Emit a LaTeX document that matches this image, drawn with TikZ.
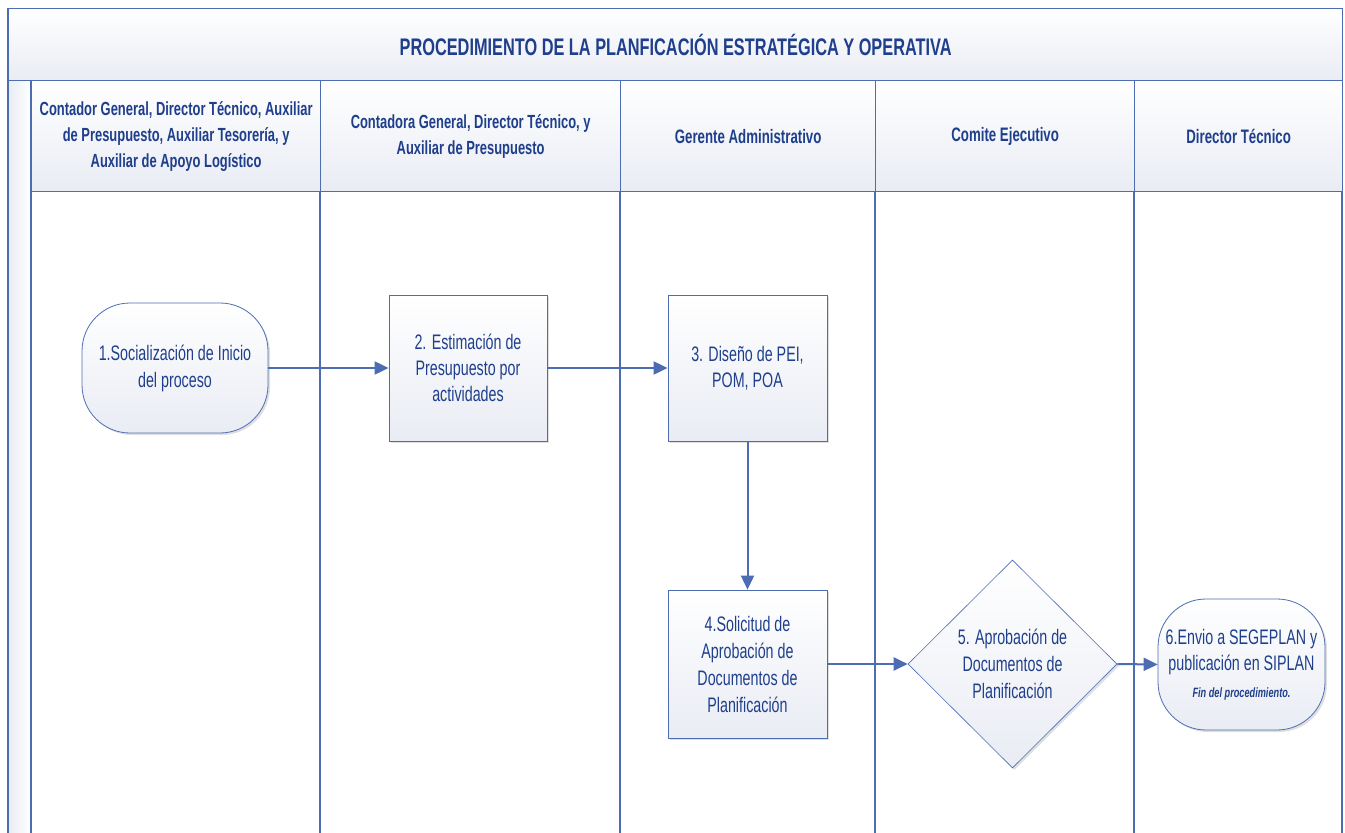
\documentclass[tikz,border=0pt]{standalone}
\usepackage{fontspec}
\setmainfont{Liberation Sans}[FakeStretch=0.68]
\usetikzlibrary{arrows.meta,shapes.geometric,shadows}
\definecolor{lane}{HTML}{4D6DB3}
\definecolor{txt}{HTML}{1F3F8C}
\definecolor{shade}{HTML}{E9ECF4}
\tikzset{
  laneline/.style={draw=lane,line width=1.3pt},
  cell/.style={draw=lane,line width=1.3pt,top color=white,bottom color=shade,inner sep=0pt,text=txt,font=\fontsize{19}{26}\selectfont\bfseries,align=center},
  procbox/.style={draw=lane,line width=0.8pt,top color=white,bottom color=shade,text=txt,align=center,inner sep=0pt,font=\fontsize{21}{26}\selectfont,drop shadow={shadow xshift=2pt,shadow yshift=-2pt,opacity=0.25,fill=gray}},
  termbox/.style={procbox,rounded corners=48pt},
  decbox/.style={procbox,shape=diamond,line width=0.6pt},
  flow/.style={draw=lane,line width=2pt,-{Triangle[length=14pt,width=13pt]}}
}
\begin{document}
\begin{tikzpicture}[x=1pt,y=-1pt]
\useasboundingbox (0,0) rectangle (1345,833);
\fill[white] (0,0) rectangle (1345,833);
% left strip
\fill[left color=shade,right color=white] (8,80) rectangle (31,833);
% title band
\node[cell,minimum width=1334pt,minimum height=72pt,anchor=north west,font=\fontsize{24}{28}\selectfont\bfseries] (title) at (8,8) {PROCEDIMIENTO DE LA PLANFICACIÓN ESTRATÉGICA Y OPERATIVA};
% header cells
\node[cell,minimum width=289pt,minimum height=111pt,anchor=north west] (h1) at (31,80) {Contador General, Director Técnico, Auxiliar\\de Presupuesto, Auxiliar Tesorería, y\\Auxiliar de Apoyo Logístico};
\node[cell,minimum width=300pt,minimum height=111pt,anchor=north west] (h2) at (320,80) {Contadora General, Director Técnico, y\\Auxiliar de Presupuesto};
\node[cell,minimum width=255pt,minimum height=111pt,anchor=north west,font=\fontsize{19.5}{26}\selectfont\bfseries] (h3) at (620,80) {Gerente Administrativo};
\node[cell,minimum width=259pt,minimum height=111pt,anchor=north west,font=\fontsize{19.5}{26}\selectfont\bfseries] (h4) at (875,80) {Comite Ejecutivo};
\node[cell,minimum width=208pt,minimum height=111pt,anchor=north west,font=\fontsize{19.5}{26}\selectfont\bfseries] (h5) at (1134,80) {Director Técnico};
% lane lines
\draw[laneline] (8,8) -- (8,833);
\draw[laneline] (31,80) -- (31,833);
\draw[laneline] (320,191) -- (320,833);
\draw[laneline] (620,191) -- (620,833);
\draw[laneline] (875,191) -- (875,833);
\draw[laneline] (1134,191) -- (1134,833);
\draw[laneline] (1342,191) -- (1342,833);
% nodes
\node[termbox,minimum width=186pt,minimum height=130pt] (n1) at (175,368) {1.Socialización de Inicio\\[1pt]del proceso};
\node[procbox,minimum width=158pt,minimum height=146pt] (n2) at (468,368) {2. Estimación de\\Presupuesto por\\actividades};
\node[procbox,minimum width=159pt,minimum height=146pt] (n3) at (747.5,368) {3. Diseño de PEI,\\POM, POA};
\node[procbox,minimum width=159pt,minimum height=148pt,font=\fontsize{21}{27}\selectfont] (n4) at (747.5,664) {4.Solicitud de\\Aprobación de\\Documentos de\\Planificación};
\node[decbox,minimum width=209pt,minimum height=208pt,font=\fontsize{21}{27}\selectfont] (n5) at (1012.5,664) {5. Aprobación de\\Documentos de\\Planificación};
\node[termbox,minimum width=167pt,minimum height=131pt] (n6) at (1241.5,664.5) {6.Envio a SEGEPLAN y\\publicación en SIPLAN\\[1pt]{\fontsize{13.5}{15}\selectfont\bfseries\itshape Fin del procedimiento.}};
% connectors
\draw[flow] (n1.east) -- (n2.west);
\draw[flow] (n2.east) -- (n3.west);
\draw[flow] (n3.south) -- (n4.north);
\draw[flow] (n4.east) -- (n5.west);
\draw[flow] (n5.east) -- (n6.west);
\end{tikzpicture}
\end{document}
